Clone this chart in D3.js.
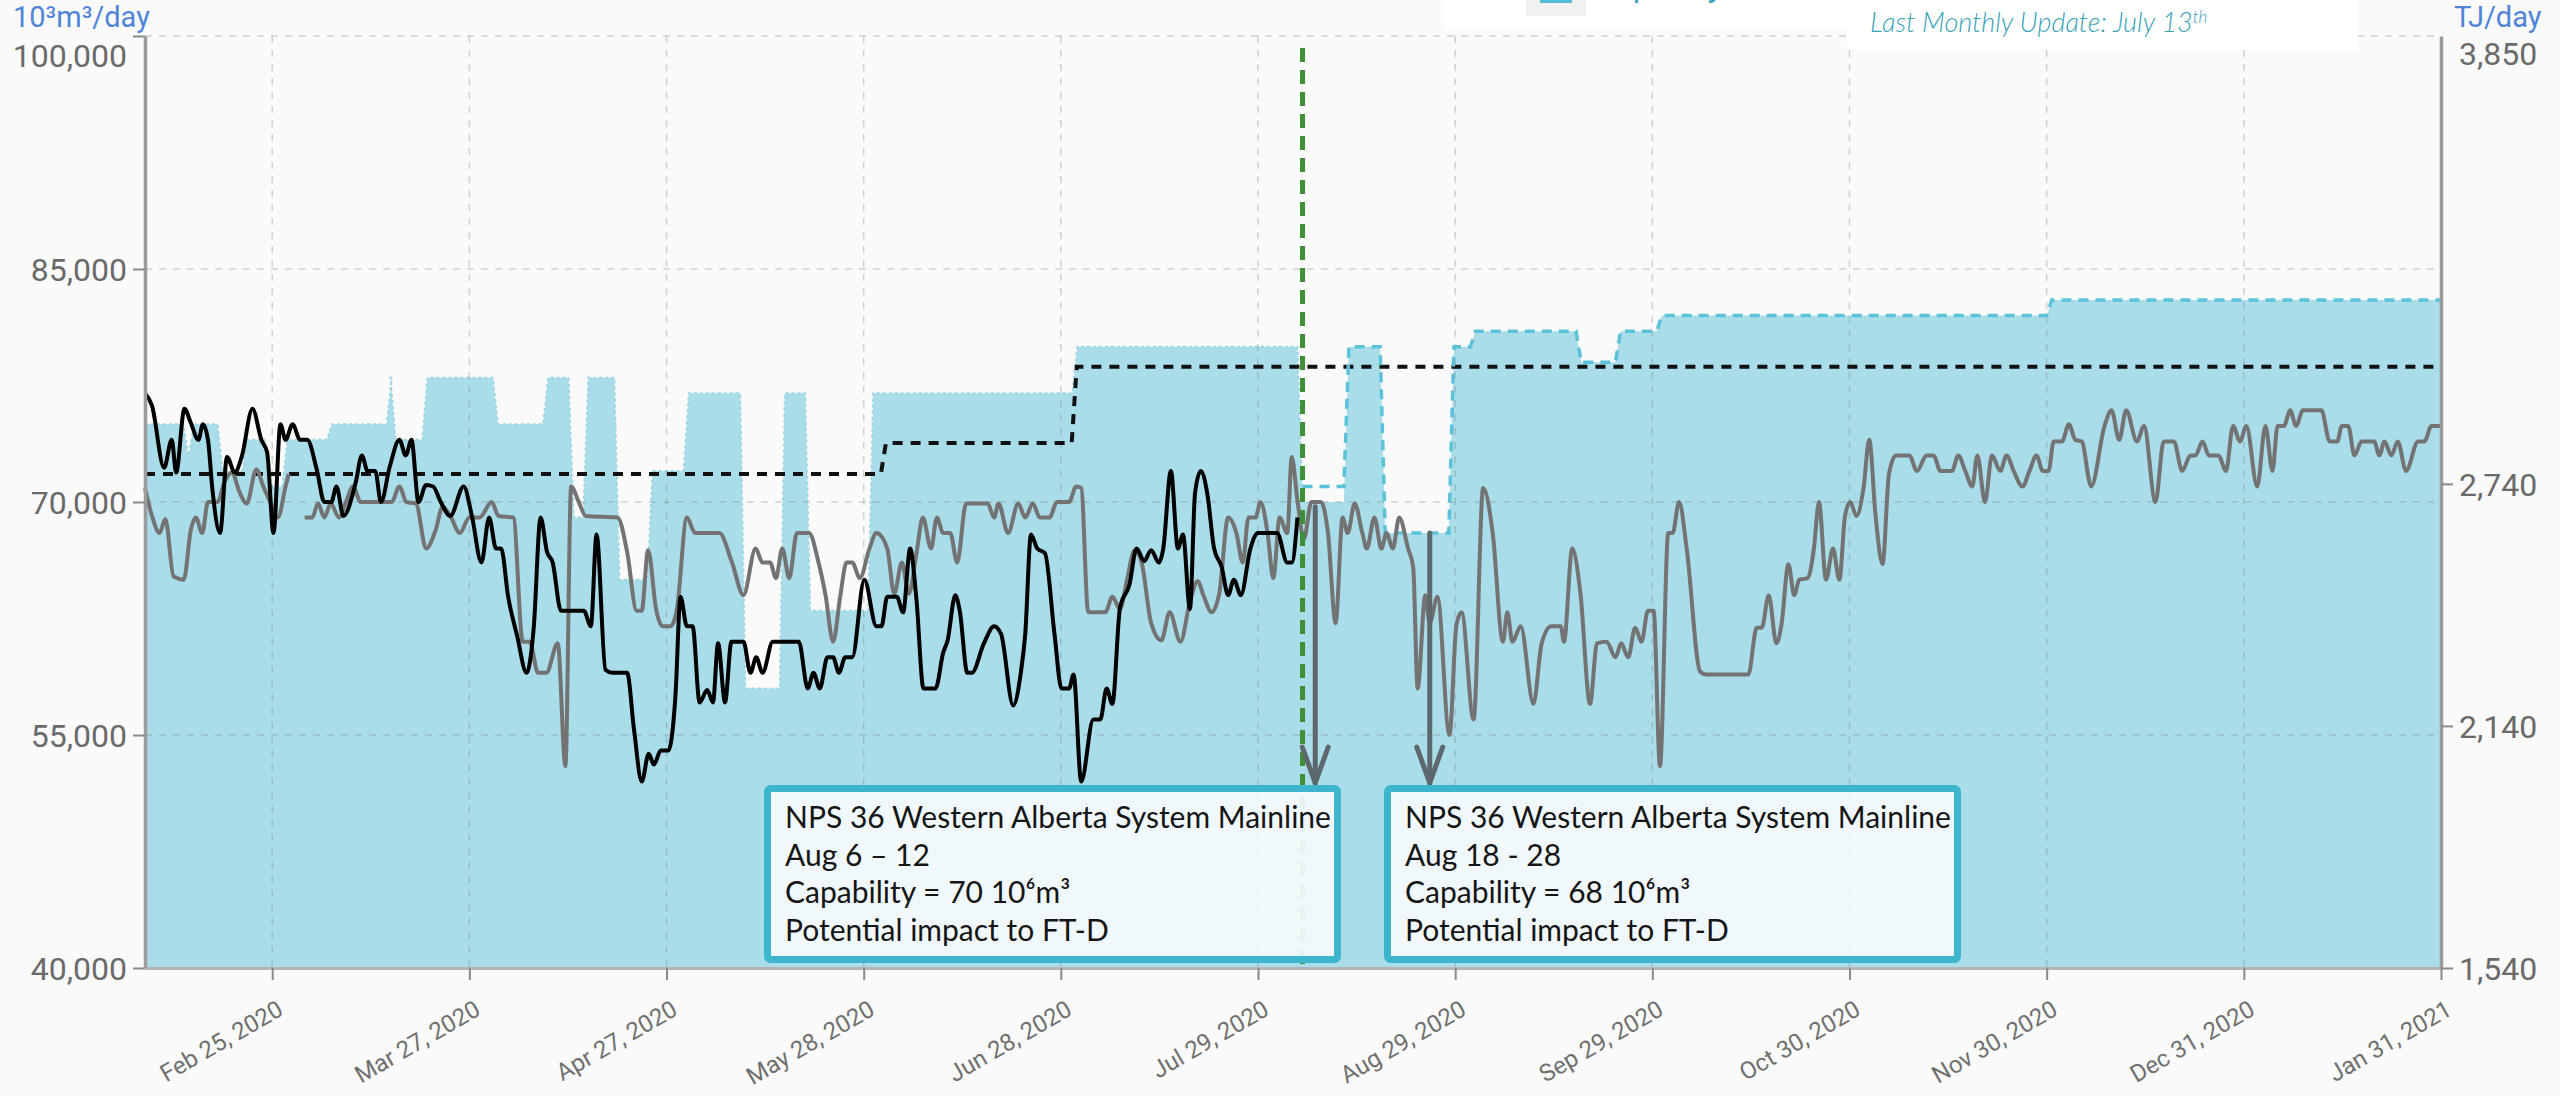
<!DOCTYPE html>
<html>
<head>
<meta charset="utf-8">
<script src="https://cdn.jsdelivr.net/npm/d3@7"></script>
<style>
html, body { margin: 0; padding: 0; background: #fafafa; }
svg { display: block; }
</style>
</head>
<body>
<svg id="chart" width="2560" height="1096"></svg>
<script>
// ---- data (day = days after Feb 5, 2020) ----
var firstDay = new Date(2020, 1, 5);
var lastDay = new Date(2021, 0, 31);
var xTickLabels = ["2020-02-25", "2020-03-27", "2020-04-27", "2020-05-28", "2020-06-28", "2020-07-29",
	"2020-08-29", "2020-09-29", "2020-10-30", "2020-11-30", "2020-12-31", "2021-01-31"];
var leftTicks = [40000, 55000, 70000, 85000, 100000];
var rightTicks = [1540, 2140, 2740, 3850];

// capacity steps [start day, 10³m³/day]
var capacitySteps = [[0,75000],[6.8,73000],[7.7,75000],[12.2,72000],[16.1,74000],[19.6,71000],[22.4,74000],
	[29.4,75000],[38.8,78000],[39.4,74000],[44.4,78000],[55.5,75000],[63.4,78000],[67.4,69000],[69.7,78000],
	[74.6,65000],[79.8,72000],[85.5,77000],[94.4,58000],[100.6,77000],[104.6,63000],[114.5,77000],[146.6,80000],
	[182,70000],[189.3,80000],[195,68000],[205.8,80000],[209.2,81000],[225.8,79000],[232,81000],[238.5,82000],
	[299.8,83000],[361,83000]];
// forecast capacity (dashed) after the last monthly update
var forecastSteps = [[182,71000],[189.3,80000],[195,68000],[205.8,80000],[209.2,81000],[225.8,79000],
	[232,81000],[238.5,82000],[299.8,83000],[361,83000]];
// contracted level (black dashed)
var contractSteps = [[0,71800],[116.5,73800],[146.5,78700],[361,78700]];

// 2020 flow (black)
var flow2020 = [[0,77000],[1.1,76200],[3,72200],[4.2,74000],[4.9,71900],[6.2,76000],[7.2,75100],[8.4,74000],
	[9.1,75000],[9.9,74000],[10.6,70800],[11.8,68000],[12.9,72900],[14.1,71900],[15.2,72900],[16.9,76000],
	[18.3,74000],[19.2,73200],[20.2,68000],[21.3,75000],[22.1,74000],[23.2,75000],[24.4,74000],[25.5,74000],
	[27,72100],[28.2,70000],[29.3,70000],[30.1,71000],[31.2,69100],[33.1,71200],[34.1,73000],[35,72000],
	[36.2,72000],[37.1,70000],[38.5,72300],[40,74000],[41,73000],[41.9,74000],[43,70000],[44.2,71100],
	[45.3,71000],[46.5,70000],[48,69100],[50.1,71000],[51.4,69100],[52.9,66100],[54.1,69000],[55.2,67000],
	[56,67000],[57.1,63900],[58.5,61400],[60,59000],[61.1,61800],[62.2,69000],[63.2,66800],[64.1,66100],
	[65.4,63000],[66.3,63000],[69,63000],[70.1,62000],[71,67900],[72.4,59200],[73.5,59000],[75.8,59000],
	[76.9,55300],[78.1,52000],[79.2,53800],[80,53100],[81.1,54000],[82.3,54000],[83.4,57500],[84.2,63900],
	[85.2,62000],[86.1,62000],[87.2,57100],[88.4,57900],[89.3,57100],[90.1,60900],[91.2,57100],[92.2,61000],
	[94.1,61000],[95.2,59000],[96.1,60000],[97.1,59000],[98.7,61000],[102.8,61000],[104.2,58000],[105.1,59000],
	[106.1,58000],[107.3,60000],[108.2,60000],[109.1,59000],[110.1,60000],[111.2,60000],[113.1,65000],
	[115,62000],[115.8,62000],[116.7,63900],[118.2,63900],[119.2,62900],[120.3,67000],[121.3,63700],[122.4,58000],
	[124.3,58000],[125.5,60300],[126.2,61100],[127.4,64000],[128.1,63000],[129.3,59000],[130,59000],[131.9,60900],
	[133.5,62000],[134.6,61500],[136.5,56900],[137.7,59000],[138.4,61500],[139.3,67900],[140.3,67000],
	[141.5,66700],[143,61500],[144.1,58000],[145.3,58000],[146,58900],[147.2,52000],[149.1,56000],[150.2,56000],
	[151.2,58000],[152.1,57000],[153.3,63200],[154.8,64700],[155.9,67000],[157.1,66200],[158.2,66900],
	[159.4,66100],[160.1,67000],[161.3,72000],[162.4,67000],[163.2,67900],[164.3,63100],[165.1,70600],
	[166,72000],[167,70600],[168.1,67000],[169.3,65800],[170.3,64000],[171.2,65000],[172.3,64000],[173.8,67000],
	[175,68000],[178,68000],[179.6,66100],[180.3,66100],[181.2,69000]];

// last year's flow (grey), null = missing
var flowLastYear = [[0,70900],[1.1,69100],[2.3,68000],[3.2,68900],[4.5,65200],[6.1,65000],[7.2,68200],[8,69000],
	[9,68000],[9.9,70000],[11.4,70000],[12.5,71300],[13.7,71900],[14.8,70700],[16,69900],[17.5,72100],[18.6,71000],
	[19.8,69900],[20.9,69000],[22.1,71000],[22.6,71800],[23,null],[25.1,69000],[26.3,69000],[27.2,69900],
	[28.2,69000],[29.2,69900],[30.5,69000],[31.6,70000],[32.7,71000],[33.9,70000],[35.8,70000],[38.8,70000],
	[40,71000],[41.1,70000],[42.6,69900],[44.2,67000],[45.7,68200],[46.8,69700],[48,69100],[49.5,68000],[51,69000],
	[52.6,69000],[54.5,70000],[55.6,69100],[57.9,69000],[59.4,61000],[60.5,61000],[61.8,59000],[63.1,59000],
	[64.9,60900],[66.1,53000],[67,71000],[68.2,70000],[69.3,69100],[74.3,69000],[75.8,66800],[77.3,63000],
	[78.1,63000],[79.1,66900],[80.4,63000],[81.4,62000],[82.6,62000],[83.6,63000],[85.2,69000],[86.5,68000],
	[90.3,68000],[92.3,66100],[94.1,64000],[96,67000],[97.1,66100],[98.3,66100],[99.2,65100],[100.2,67000],
	[101.3,65100],[102.5,68000],[104.4,68000],[105.9,66100],[107,64000],[108.2,61000],[109.3,63900],[110.3,66100],
	[111.2,66100],[112.4,65100],[113.9,67000],[115,68000],[116.7,67000],[117.8,64100],[119,66100],[120.1,64100],
	[121.3,66700],[122.3,69000],[123.6,67000],[124.5,69000],[125.5,68000],[126.6,68000],[127.7,66100],
	[129.1,69900],[130.4,69900],[131.6,69900],[132.5,69900],[133.5,69000],[134.2,69900],[135.7,68000],
	[137.3,69900],[138.4,69000],[139.6,69900],[140.7,69000],[142.2,69000],[143.4,70000],[145.3,70000],
	[146.4,71000],[147.2,70900],[148.3,62900],[151,62900],[152.1,63900],[153.3,63100],[154.4,65000],[155.6,66900],
	[156.7,66100],[158.2,62200],[159.8,61100],[161.1,62900],[162.8,61000],[164.3,63600],[165.5,64900],
	[166.5,63900],[167.7,62900],[168.9,64100],[170.3,69000],[171.6,68000],[172.6,66100],[173.5,69000],
	[174.6,69000],[175.4,70000],[176.5,68000],[177.4,65100],[178.4,69000],[179.6,68000],[180.3,72900],
	[181.2,70100],[182.2,67600],[183.4,70000],[184.9,70000],[186,68000],[187.2,62200],[188.3,69000],[189.1,68000],
	[190.2,69900],[191.4,68000],[192.1,67000],[193.3,69000],[194.4,67000],[195.2,68000],[196.2,67000],
	[197.2,69000],[198.6,67000],[199.4,65800],[200.1,58000],[201.3,64000],[202,62200],[203.2,63900],[205.1,55000],
	[206.2,62100],[207,62900],[208.9,56000],[210.4,70900],[211.9,68000],[213.5,61000],[214.2,62900],[215,61000],
	[216.3,62000],[218.3,57000],[219.6,60900],[221.1,62000],[222.6,62000],[223.1,61000],[224.4,67000],
	[225.7,64100],[227.2,57000],[228.3,60900],[229.8,61000],[231.2,60000],[232.1,60900],[233.2,60000],
	[234.3,61900],[235.3,61000],[236.3,63000],[237.2,63000],[238.2,53000],[239.5,68000],[240.2,68000],
	[241.2,70000],[242.4,67000],[244.5,59100],[245.4,58900],[252.1,58900],[253.4,61900],[254.2,61900],
	[255.3,64000],[256.5,60900],[257.3,62100],[258.4,66000],[259.3,64000],[260.1,65000],[261.4,65100],
	[262.4,67000],[263.2,70000],[264.3,65000],[265.4,67000],[266.4,65000],[267.3,69100],[268.1,70000],
	[269.1,69100],[270.2,70900],[271.1,74000],[272.1,69100],[273.2,66000],[274.2,71800],[275.3,73000],
	[277.4,73000],[278.6,72000],[280.1,73000],[281.2,73000],[282.3,72000],[284.1,72000],[285.1,73000],
	[286.2,72000],[287.3,71000],[288.1,73000],[289.3,70000],[290.4,73000],[291.7,72000],[292.7,73000],
	[293.8,72000],[295.2,71000],[296.3,72000],[297.4,73000],[298.4,72000],[299.3,72000],[300.1,73900],
	[301.4,73900],[302.5,75000],[303.5,74000],[304.5,73900],[306,71000],[308.1,74900],[309.2,75900],
	[310.4,74000],[311.5,75900],[313.2,73900],[314.3,74900],[316.1,70000],[317.4,73900],[319,73900],
	[320.3,72000],[321.6,73000],[322.4,73000],[323.5,73900],[324.5,73000],[326,73000],[327.2,72000],
	[328.3,74900],[329.4,73900],[330.4,74900],[332.1,71000],[333.4,74900],[334.5,72000],[335.3,74900],
	[336.3,74900],[337.3,75900],[338.2,74900],[339.3,75900],[342.2,75900],[343.5,73900],[344.7,73900],
	[345.4,74900],[346.4,74900],[347.4,73000],[348.5,73900],[350.5,73900],[351.3,73000],[352.1,73900],
	[353.2,73000],[354.2,73900],[355.5,72000],[357.4,73900],[358.4,73900],[359.5,74900],[361,74900]];

// annotations
var updateDay = 182;          // green dashed marker (Aug 5)
var arrowDays = [184, 202];
var arrowFromValues = [69700, 68000];
var noteTexts = [
	["NPS 36 Western Alberta System Mainline", "Aug 6 \u2013 12", "Capability = 70 10\u2076m\u00b3", "Potential impact to FT-D"],
	["NPS 36 Western Alberta System Mainline", "Aug 18 - 28", "Capability = 68 10\u2076m\u00b3", "Potential impact to FT-D"]
];

// ---- scales ----
var svg = d3.select("#chart");
var plotLeft = 145, plotRight = 2441, plotTop = 36, plotBottom = 968;
var dayToDate = function(d) { return new Date(firstDay.getTime() + d * 864e5); };
var parseDay = d3.timeParse("%Y-%m-%d");
var x = d3.scaleTime().domain([firstDay, lastDay]).range([plotLeft, plotRight]);
var y = d3.scaleLinear().domain([40000, 100000]).range([plotBottom, plotTop]);
var yRight = d3.scaleLinear().domain([1540, 3850]).range([plotBottom, plotTop]);
var xTicks = xTickLabels.map(parseDay);

// steps -> points with a one-day ramp between levels
function stepPoints(steps) {
	var pts = [];
	steps.forEach(function(s, i) {
		pts.push([s[0], s[1]]);
		if (i < steps.length - 1) pts.push([steps[i + 1][0] - 0.8, s[1]]);
	});
	return pts;
}

// capacity area
svg.append("path")
	.datum(stepPoints(capacitySteps))
	.attr("fill", "#a8dde9")
	.attr("d", d3.area()
		.x(function(d) { return x(dayToDate(d[0])); })
		.y0(y(40000))
		.y1(function(d) { return y(d[1]); }));
svg.append("path")
	.datum(stepPoints(capacitySteps).filter(function(d) { return d[0] <= 182; }))
	.attr("fill", "none")
	.attr("stroke", "#9fd6e3")
	.attr("stroke-width", 2)
	.attr("stroke-dasharray", "3,3")
	.attr("d", d3.line()
		.x(function(d) { return x(dayToDate(d[0])); })
		.y(function(d) { return y(d[1]); }));

// grid
var grid = svg.append("g").attr("stroke", "rgba(120,120,120,0.32)").attr("stroke-width", 1.5).attr("stroke-dasharray", "7,7");
grid.selectAll("line.h").data(leftTicks.filter(function(v) { return v > 40000; }))
	.enter().append("line")
	.attr("x1", plotLeft).attr("x2", plotRight)
	.attr("y1", function(d) { return y(d); }).attr("y2", function(d) { return y(d); });
grid.selectAll("line.v").data(xTicks.slice(0, -1))
	.enter().append("line")
	.attr("y1", plotTop).attr("y2", plotBottom)
	.attr("x1", function(d) { return x(d); }).attr("x2", function(d) { return x(d); });

var lineGen = d3.line()
	.defined(function(d) { return d[1] !== null; })
	.x(function(d) { return x(dayToDate(d[0])); })
	.y(function(d) { return y(d[1]); });

// contract level
svg.append("path")
	.datum(stepPoints(contractSteps))
	.attr("fill", "none")
	.attr("stroke", "#111")
	.attr("stroke-width", 4)
	.attr("stroke-dasharray", "10,8")
	.attr("d", lineGen);

// forecast capacity
svg.append("path")
	.datum(stepPoints(forecastSteps))
	.attr("fill", "none")
	.attr("stroke", "#5cc2d9")
	.attr("stroke-width", 3.5)
	.attr("stroke-dasharray", "10,7")
	.attr("d", lineGen);

// last year and 2020 flow
var smoothLine = d3.line()
	.defined(function(d) { return d[1] !== null; })
	.curve(d3.curveMonotoneX)
	.x(function(d) { return x(dayToDate(d[0])); })
	.y(function(d) { return y(d[1]); });
svg.append("path")
	.datum(flowLastYear)
	.attr("fill", "none")
	.attr("stroke", "#737373")
	.attr("stroke-width", 4)
	.attr("stroke-linejoin", "round")
	.attr("d", smoothLine);
svg.append("path")
	.datum(flow2020)
	.attr("fill", "none")
	.attr("stroke", "#000")
	.attr("stroke-width", 4)
	.attr("stroke-linejoin", "round")
	.attr("d", smoothLine);

// update marker
svg.append("line")
	.attr("x1", x(dayToDate(updateDay))).attr("x2", x(dayToDate(updateDay)))
	.attr("y1", 48).attr("y2", plotBottom)
	.attr("stroke", "#3f8f36")
	.attr("stroke-width", 5)
	.attr("stroke-dasharray", "14,8");

// arrows
var boxTop = 785;
var arrows = svg.append("g").attr("stroke", "#5c686c").attr("stroke-width", 5).attr("fill", "none").attr("stroke-linecap", "round");
arrowDays.forEach(function(d, i) {
	var ax = x(dayToDate(d));
	arrows.append("line").attr("x1", ax).attr("x2", ax).attr("y1", y(arrowFromValues[i])).attr("y2", boxTop - 2);
	arrows.append("path").attr("d", "M" + (ax - 13) + "," + (boxTop - 38) + "L" + ax + "," + (boxTop - 2) + "L" + (ax + 13) + "," + (boxTop - 38));
});

// note boxes
var boxLefts = [764, 1384];
noteTexts.forEach(function(lines, i) {
	var g = svg.append("g").attr("transform", "translate(" + boxLefts[i] + "," + boxTop + ")");
	g.append("rect")
		.attr("x", 3.5).attr("y", 3.5)
		.attr("width", 570).attr("height", 171)
		.attr("rx", 3)
		.attr("fill", "rgba(245,250,252,0.93)")
		.attr("stroke", "#3db5cd")
		.attr("stroke-width", 7);
	g.selectAll("text").data(lines).enter().append("text")
		.attr("x", 21)
		.attr("y", function(d, j) { return 43 + j * 37.5; })
		.attr("font-family", "Lato, 'Open Sans', sans-serif")
		.attr("font-size", 30)
		.attr("fill", "#151515")
		.text(function(d) { return d; });
});

// axes
var xAxis = svg.append("g")
	.attr("transform", "translate(0," + plotBottom + ")")
	.call(d3.axisBottom(x).tickValues(xTicks).tickFormat(d3.timeFormat("%b %d, %Y")).tickSize(12).tickSizeOuter(0));
xAxis.select(".domain").attr("stroke", "#b4b4b4").attr("stroke-width", 3);
xAxis.selectAll(".tick line").attr("stroke", "#8a8a8a").attr("stroke-width", 2);
xAxis.selectAll(".tick text")
	.attr("x", 0).attr("y", 0).attr("dy", 0)
	.attr("text-anchor", "end")
	.attr("transform", "translate(12,46) rotate(-30)")
	.attr("font-family", "Roboto, sans-serif")
	.attr("font-size", 24)
	.attr("fill", "#707070");

var yAxis = svg.append("g")
	.attr("transform", "translate(" + plotLeft + ",0)")
	.call(d3.axisLeft(y).tickValues(leftTicks).tickFormat(d3.format(",")).tickSize(12).tickPadding(6).tickSizeOuter(0));
yAxis.select(".domain").attr("stroke", "#9c9c9c").attr("stroke-width", 3.5);
yAxis.selectAll(".tick line").attr("stroke", "#8a8a8a").attr("stroke-width", 2);
yAxis.selectAll(".tick text")
	.attr("font-family", "Roboto, sans-serif")
	.attr("font-size", 32)
	.attr("fill", "#6a6a6a")
	.attr("dy", function(d) { return d === 100000 ? "0.95em" : "0.36em"; });

var yAxisRight = svg.append("g")
	.attr("transform", "translate(" + plotRight + ",0)")
	.call(d3.axisRight(yRight).tickValues(rightTicks).tickFormat(d3.format(",")).tickSize(12).tickPadding(6).tickSizeOuter(0));
yAxisRight.select(".domain").attr("stroke", "#9c9c9c").attr("stroke-width", 3.5);
yAxisRight.selectAll(".tick line").attr("stroke", "#8a8a8a").attr("stroke-width", 2)
	.attr("opacity", function(d) { return d === 3850 ? 0 : 1; });
yAxisRight.selectAll(".tick text")
	.attr("font-family", "Roboto, sans-serif")
	.attr("font-size", 32)
	.attr("fill", "#6a6a6a")
	.attr("dy", function(d) { return d === 3850 ? "0.9em" : "0.36em"; });
svg.selectAll(".domain").attr("fill", "none");

// unit titles
svg.append("text").attr("x", 13).attr("y", 27)
	.attr("font-family", "Roboto, sans-serif").attr("font-size", 29).attr("fill", "#4f84d8")
	.text("10\u00b3m\u00b3/day");
svg.append("text").attr("x", 2454).attr("y", 27)
	.attr("font-family", "Roboto, sans-serif").attr("font-size", 29).attr("fill", "#4f84d8")
	.text("TJ/day");

// legend at the top edge (cut off as in the source) and update note
svg.append("rect").attr("x", 1444).attr("y", 0).attr("width", 403).attr("height", 30).attr("fill", "#fff");
svg.append("rect").attr("x", 1526).attr("y", 0).attr("width", 60).attr("height", 16).attr("fill", "#f1f1f1");
svg.append("rect").attr("x", 1540).attr("y", -20).attr("width", 32).attr("height", 23).attr("fill", "#55bfd6");
svg.append("text").attr("x", 1592).attr("y", -4)
	.attr("font-family", "Roboto, sans-serif").attr("font-size", 34).attr("fill", "#3aa6b9")
	.text("Capacity");
svg.append("rect").attr("x", 1847).attr("y", 0).attr("width", 511).attr("height", 50).attr("fill", "#fff");
var upd = svg.append("text").attr("x", 1870).attr("y", 32)
	.attr("font-family", "Lato, sans-serif").attr("font-style", "italic").attr("font-weight", 300)
	.attr("font-size", 27).attr("fill", "#3aa3b7")
	.text("Last Monthly Update: July 13");
upd.append("tspan").attr("dy", -9).attr("font-size", 17).text("th");
</script>
</body>
</html>
